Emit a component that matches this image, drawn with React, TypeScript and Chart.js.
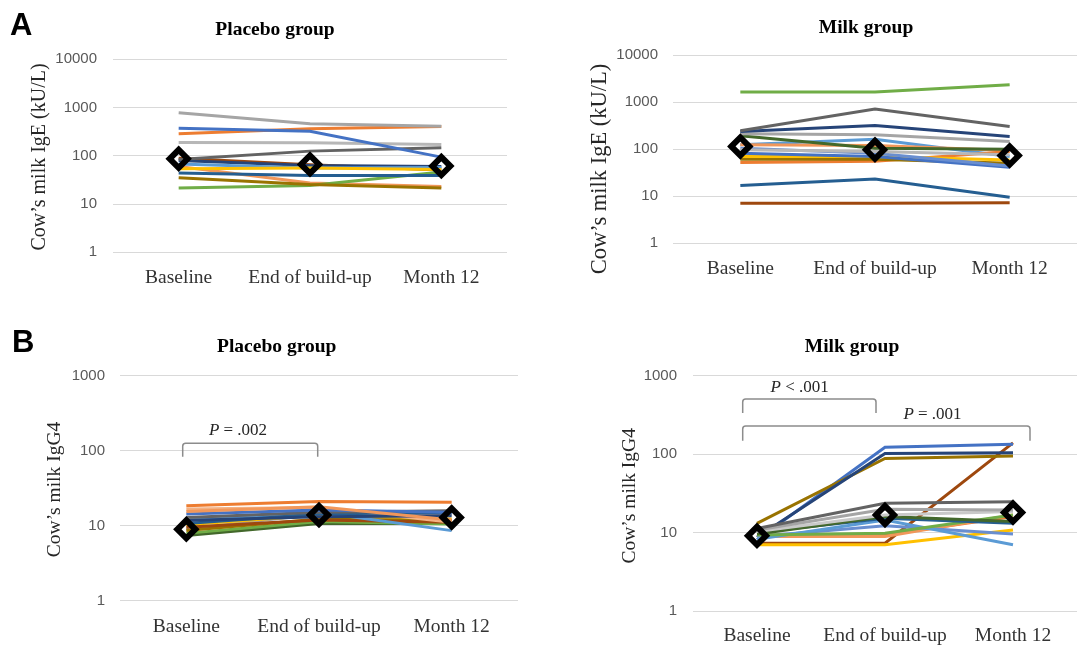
import React, { useEffect, useRef } from "react";
import { Chart, registerables } from "chart.js";

Chart.register(...registerables);

const W = 1092;
const H = 646;

const timepoints = ["Baseline", "End of build-up", "Month 12"];
const igeTicks = [1, 10, 100, 1000, 10000];
const igg4Ticks = [1, 10, 100, 1000];

// A – Placebo group, cow's milk IgE (kU/L)
const placeboIgE: number[][] = [
  [776, 459, 411],
  [374, 324, 94],
  [285, 362, 404],
  [189, 186, 172],
  [84, 125, 146],
  [44, 39, 39],
  [35, 25.5, 21.4],
  [21.4, 24.3, 46],
  [54, 56, 52],
  [68, 56, 57],
  [60, 27.2, 23.2],
  [80, 63, 60],
  [89, 65, 51],
];
const placeboIgEColors = [
  "#A5A5A5", "#4472C4", "#ED7D31", "#B7B7B7", "#636363", "#255E91", "#997300",
  "#70AD47", "#FFC000", "#5B9BD5", "#F1975A", "#264478", "#9E480E",
];
const placeboIgEMean = [86.7, 66.4, 61.2];

// A – Milk group, cow's milk IgE (kU/L)
const milkIgE: number[][] = [
  [1630, 1630, 2340],
  [246, 710, 304],
  [237, 319, 186],
  [212, 202, 146],
  [192, 105, 100],
  [97, 89, 76],
  [105, 82, 44],
  [82, 70, 41],
  [70, 70, 59],
  [61, 61, 50],
  [52, 55, 89],
  [124, 120, 94],
  [124, 163, 70],
  [16.9, 23.1, 9.5],
  [7.1, 7.1, 7.3],
];
const milkIgEColors = [
  "#70AD47", "#636363", "#264478", "#A5A5A5", "#43682B", "#B7B7B7", "#698ED0",
  "#4472C4", "#FFC000", "#997300", "#ED7D31", "#F1975A", "#5B9BD5", "#255E91", "#9E480E",
];
const milkIgEMean = [114, 97, 73];

// B – Placebo group, cow's milk IgG4
const placeboIgG4: number[][] = [
  [18.5, 21.1, 20.5],
  [15.5, 17.9, 11.9],
  [14.3, 16.2, 15.1],
  [12.9, 15.1, 15.8],
  [11.7, 13.2, 13.6],
  [10.7, 14.3, 15.1],
  [11.9, 15.1, 8.6],
  [16.7, 17.5, 11.1],
  [9.5, 11.9, 11.1],
  [8.6, 12.3, 11.7],
  [10.3, 13.9, 12.3],
  [7.9, 11.4, 10.5],
  [7.4, 10.7, 10.7],
  [9.0, 14.3, 14.3],
];
const placeboIgG4Colors = [
  "#ED7D31", "#F1975A", "#4472C4", "#636363", "#264478", "#255E91", "#5B9BD5",
  "#F4B183", "#9E480E", "#997300", "#FFC000", "#70AD47", "#43682B", "#A5A5A5",
];
const placeboIgG4Mean = [8.95, 13.9, 12.9];

// B – Milk group, cow's milk IgG4
const milkIgG4: number[][] = [
  [11.3, 23.6, 24.8],
  [10.8, 19.8, 19.4],
  [10.3, 16.8, 18.5],
  [9.6, 16.0, 13.8],
  [10, 15.2, 13.1],
  [9.3, 9.8, 16.8],
  [8.2, 14.5, 7.0],
  [8.9, 12.2, 9.6],
  [7.0, 7.0, 10.8],
  [8.9, 8.9, 16.8],
  [9.3, 9.3, 16],
  [8.7, 102, 104],
  [13.1, 88, 95],
  [8.1, 122, 134],
  [7.3, 7.3, 139],
];
const milkIgG4Colors = [
  "#636363", "#A5A5A5", "#C9C9C9", "#43682B", "#255E91", "#70AD47", "#5B9BD5",
  "#698ED0", "#FFC000", "#F1975A", "#ED7D31", "#264478", "#997300", "#4472C4", "#9E480E",
];
const milkIgG4Mean = [9.1, 16.8, 18];

const SERIF = '"Liberation Serif", "Times New Roman", serif';
const SANS = '"Liberation Sans", Arial, sans-serif';

type Bracket = { x1: number; x2: number; top: number; bottom: number; rel: string; tx: number; ty: number };
type Layout = {
  area: { left: number; top: number; right: number; bottom: number };
  yTickPad: number;
  xTickPad: number;
  title: { text: string; x: number; y: number };
  yTitle: { text: string; x: number; y: number; size: number };
  letter?: { text: string; x: number; y: number };
  brackets: Bracket[];
};
type Panel = { subjects: number[][]; colors: string[]; mean: number[]; ticks: number[]; layout: Layout };

const panels: Panel[] = [
  {
    subjects: placeboIgE,
    colors: placeboIgEColors,
    mean: placeboIgEMean,
    ticks: igeTicks,
    layout: {
      area: { left: 113, top: 59.3, right: 507, bottom: 252.3 },
      yTickPad: 16,
      xTickPad: 6,
      title: { text: "Placebo group", x: 275, y: 35 },
      yTitle: { text: "Cow\u2019s milk IgE (kU/L)", x: 40, y: 157, size: 20 },
      letter: { text: "A", x: 10, y: 35 },
      brackets: [],
    },
  },
  {
    subjects: milkIgE,
    colors: milkIgEColors,
    mean: milkIgEMean,
    ticks: igeTicks,
    layout: {
      area: { left: 673, top: 55, right: 1092, bottom: 243.3 },
      yTickPad: 15,
      xTickPad: 6,
      title: { text: "Milk group", x: 866, y: 33.3 },
      yTitle: { text: "Cow\u2019s milk IgE (kU/L)", x: 600, y: 169, size: 22.5 },
      brackets: [],
    },
  },
  {
    subjects: placeboIgG4,
    colors: placeboIgG4Colors,
    mean: placeboIgG4Mean,
    ticks: igg4Ticks,
    layout: {
      area: { left: 120, top: 375.7, right: 518, bottom: 600.7 },
      yTickPad: 15,
      xTickPad: 6,
      title: { text: "Placebo group", x: 276.7, y: 351.7 },
      yTitle: { text: "Cow\u2019s milk IgG4", x: 55, y: 489.5, size: 19.5 },
      letter: { text: "B", x: 12, y: 352 },
      brackets: [{ x1: 182.7, x2: 317.7, top: 443.3, bottom: 456.7, rel: "= .002", tx: 238, ty: 435 }],
    },
  },
  {
    subjects: milkIgG4,
    colors: milkIgG4Colors,
    mean: milkIgG4Mean,
    ticks: igg4Ticks,
    layout: {
      area: { left: 693, top: 375.7, right: 1092, bottom: 611 },
      yTickPad: 16,
      xTickPad: 5,
      title: { text: "Milk group", x: 852, y: 352 },
      yTitle: { text: "Cow\u2019s milk IgG4", x: 630, y: 495.8, size: 19.5 },
      brackets: [
        { x1: 742.7, x2: 876, top: 399, bottom: 413, rel: "< .001", tx: 799.7, ty: 391.7 },
        { x1: 742.7, x2: 1030, top: 426, bottom: 440.7, rel: "= .001", tx: 932.5, ty: 418.7 },
      ],
    },
  },
];

function drawBracket(ctx: CanvasRenderingContext2D, b: Bracket) {
  const r = 3;
  ctx.save();
  ctx.strokeStyle = "#8C8C8C";
  ctx.lineWidth = 1.5;
  ctx.beginPath();
  ctx.moveTo(b.x1, b.bottom);
  ctx.lineTo(b.x1, b.top + r);
  ctx.arcTo(b.x1, b.top, b.x1 + r, b.top, r);
  ctx.lineTo(b.x2 - r, b.top);
  ctx.arcTo(b.x2, b.top, b.x2, b.top + r, r);
  ctx.lineTo(b.x2, b.bottom);
  ctx.stroke();

  const size = 17;
  ctx.fillStyle = "#262626";
  ctx.textBaseline = "alphabetic";
  ctx.textAlign = "left";
  ctx.font = `italic ${size}px ${SERIF}`;
  const wP = ctx.measureText("P").width;
  const rest = " " + b.rel;
  ctx.font = `${size}px ${SERIF}`;
  const wR = ctx.measureText(rest).width;
  const x0 = b.tx - (wP + wR) / 2;
  ctx.font = `italic ${size}px ${SERIF}`;
  ctx.fillText("P", x0, b.ty);
  ctx.font = `${size}px ${SERIF}`;
  ctx.fillText(rest, x0 + wP, b.ty);
  ctx.restore();
}

function PanelChart({ panel }: { panel: Panel }) {
  const ref = useRef<HTMLCanvasElement>(null);
  useEffect(() => {
    const lay = panel.layout;
    const XH = 70;
    const decor = {
      id: "decor",
      afterDraw(chart: any) {
        const ctx: CanvasRenderingContext2D = chart.ctx;
        ctx.save();
        ctx.fillStyle = "#000";
        ctx.textAlign = "center";
        ctx.textBaseline = "alphabetic";
        ctx.font = `bold 19.5px ${SERIF}`;
        ctx.fillText(lay.title.text, lay.title.x, lay.title.y);
        if (lay.letter) {
          ctx.textAlign = "left";
          ctx.font = `bold 31px ${SANS}`;
          ctx.fillText(lay.letter.text, lay.letter.x, lay.letter.y);
        }
        ctx.save();
        ctx.translate(lay.yTitle.x, lay.yTitle.y);
        ctx.rotate(-Math.PI / 2);
        ctx.textAlign = "center";
        ctx.textBaseline = "middle";
        ctx.fillStyle = "#262626";
        ctx.font = `${lay.yTitle.size}px ${SERIF}`;
        ctx.fillText(lay.yTitle.text, 0, 0);
        ctx.restore();
        lay.brackets.forEach((b) => drawBracket(ctx, b));
        ctx.restore();
      },
    };
    const datasets: any[] = panel.subjects.map((d, i) => ({
      data: d,
      borderColor: panel.colors[i],
      backgroundColor: panel.colors[i],
      borderWidth: 3,
      pointRadius: 0,
      fill: false,
      tension: 0,
      order: 1,
    }));
    datasets.push({
      data: panel.mean,
      showLine: false,
      order: 0,
      clip: false,
      borderColor: "#000",
      backgroundColor: "rgba(0,0,0,0)",
      pointStyle: "rectRot",
      pointRadius: 9,
      pointBorderWidth: 6,
      pointBorderColor: "#000",
      pointBackgroundColor: "rgba(0,0,0,0)",
    });
    const chart = new Chart(ref.current as HTMLCanvasElement, {
      type: "line",
      data: { labels: timepoints, datasets },
      options: {
        responsive: false,
        animation: false,
        events: [],
        layout: {
          padding: {
            left: 0,
            top: lay.area.top,
            right: W - lay.area.right,
            bottom: Math.max(0, H - lay.area.bottom - XH),
          },
        },
        plugins: {
          legend: { display: false },
          tooltip: { enabled: false },
          title: { display: false },
        },
        scales: {
          x: {
            type: "category",
            offset: true,
            grid: { display: false },
            border: { display: false },
            ticks: {
              color: "#333333",
              font: { family: SERIF, size: 19.5 },
              padding: lay.xTickPad,
              maxRotation: 0,
              minRotation: 0,
              autoSkip: false,
            },
            afterFit: (s: any) => {
              s.height = Math.min(XH, H - lay.area.bottom);
            },
          },
          y: {
            type: "logarithmic",
            min: panel.ticks[0],
            max: panel.ticks[panel.ticks.length - 1],
            grid: { color: "#D9D9D9", lineWidth: 1, drawTicks: false },
            border: { display: false },
            ticks: {
              color: "#595959",
              font: { family: SANS, size: 15 },
              padding: lay.yTickPad,
              callback: (v: any) => String(v),
            },
            afterBuildTicks: (s: any) => {
              s.ticks = panel.ticks.map((v) => ({ value: v }));
            },
            afterFit: (s: any) => {
              s.width = lay.area.left;
            },
          },
        },
      } as any,
      plugins: [decor],
    });
    return () => chart.destroy();
  }, [panel]);
  return (
    <canvas
      ref={ref}
      width={W}
      height={H}
      style={{ position: "absolute", left: 0, top: 0, width: W, height: H }}
    />
  );
}

export default function App() {
  return (
    <div style={{ position: "absolute", left: 0, top: 0, width: W, height: H, background: "#fff", overflow: "hidden" }}>
      {panels.map((p, i) => (
        <PanelChart key={i} panel={p} />
      ))}
    </div>
  );
}
